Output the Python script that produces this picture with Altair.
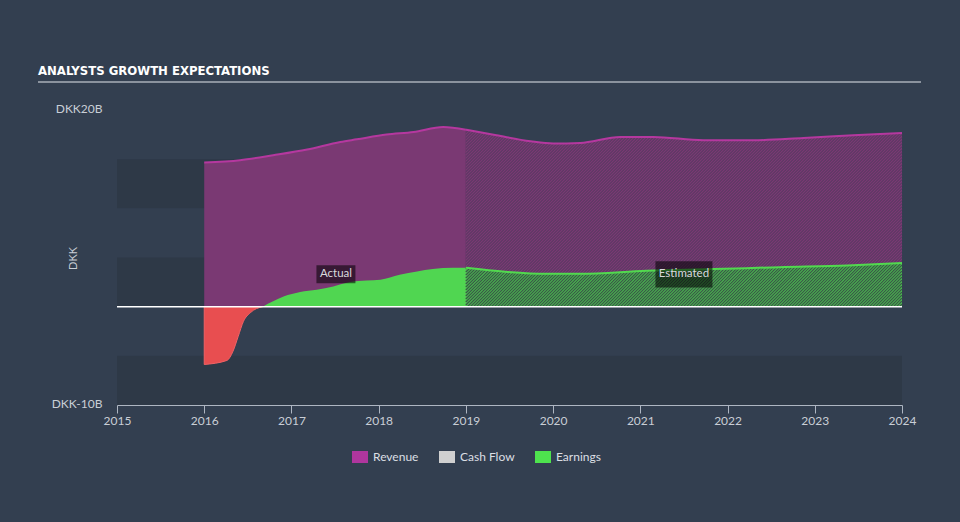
import altair as alt
import numpy as np
import pandas as pd

# ---------------- data ----------------
rev_act_years = [2016.0, 2016.41, 2016.79, 2017.18, 2017.56, 2017.75, 2018.09, 2018.4, 2018.74, 2019.0]
rev_act_vals = [14.66, 14.9, 15.4, 15.98, 16.75, 17.02, 17.5, 17.76, 18.27, 18.0]

rev_est_years = [2019.0, 2019.35, 2019.74, 2020.0, 2020.31, 2020.77, 2021.15, 2021.72, 2022.3, 2022.87, 2023.44, 2024.0]
rev_est_vals = [18.0, 17.43, 16.82, 16.59, 16.65, 17.26, 17.26, 16.92, 16.92, 17.15, 17.43, 17.66]

earn_act_years = [2016.0, 2016.26, 2016.33, 2016.39, 2016.45, 2016.53, 2016.67, 2016.91, 2017.1, 2017.29,
                  2017.48, 2017.67, 2017.86, 2018.02, 2018.24, 2018.44, 2018.62, 2018.85, 2019.0]
earn_act_vals = [-5.88, -5.47, -4.53, -3.01, -1.49, -0.61, 0.0, 1.04, 1.49, 1.72,
                 2.06, 2.5, 2.66, 2.74, 3.24, 3.58, 3.82, 3.95, 3.95]

earn_est_years = [2019.0, 2019.45, 2019.93, 2020.31, 2021.07, 2021.83, 2022.6, 2023.37, 2024.0]
earn_est_vals = [3.95, 3.55, 3.34, 3.34, 3.65, 3.82, 4.02, 4.19, 4.43]

band_tops = [15, 5, -5]
band_bottoms = [10, 0, -10]

note_texts = ["Actual", "Estimated"]
note_years = [2017.51, 2021.5]
note_vals = [3.29, 3.29]

legend_names = ["Revenue", "Cash Flow", "Earnings"]
legend_colors = ["#b0369e", "#d0d0d0", "#4ee34e"]

x_ticks = list(range(2015, 2025))
x_domain = [2015, 2024]
y_domain = [-10, 20]

# ---------------- layout / style ----------------
W, H = 785, 295
BG = "#333f50"
BAND = "#2e3947"
FONT = "Lato"

px_x = W / (x_domain[1] - x_domain[0])
px_y = H / (y_domain[1] - y_domain[0])


def hatch_segments(years, vals, spacing_px=3.0):
    """45-degree hatch lines filling the area between 0 and the series (decoration)."""
    years = np.asarray(years, float)
    vals = np.asarray(vals, float)
    k = px_x / px_y
    y0, y1 = years[0], years[-1]
    grid = np.linspace(y0, y1, 6001)
    top = np.interp(grid, years, vals)
    cs = np.arange(y0 - vals.max() / k, y1, spacing_px / px_x)
    rows = []
    for c in cs:
        if c >= y0:
            xs0, vs0 = c, 0.0
        else:
            xs0, vs0 = y0, k * (y0 - c)
        if vs0 >= np.interp(xs0, years, vals):
            continue
        diff = k * (grid - c) - top
        m = (grid >= xs0) & (diff >= 0)
        if m.any():
            xe = grid[m][0]
            ve = float(np.interp(xe, years, vals))
        else:
            xe, ve = y1, k * (y1 - c)
        rows.append({"x": xs0, "v": vs0, "x2": xe, "v2": ve})
    return pd.DataFrame(rows)


rev_act = pd.DataFrame({"year": rev_act_years, "v": rev_act_vals})
rev_est = pd.DataFrame({"year": rev_est_years, "v": rev_est_vals})
earn_act = pd.DataFrame({"year": earn_act_years, "v": earn_act_vals})
earn_neg = earn_act[earn_act["v"] <= 0]
earn_pos = earn_act[earn_act["v"] >= 0]
earn_est = pd.DataFrame({"year": earn_est_years, "v": earn_est_vals})
bands = pd.DataFrame({"top": band_tops, "bottom": band_bottoms})
notes = pd.DataFrame({"t": note_texts, "year": note_years, "v": note_vals})
leg = pd.DataFrame({"name": legend_names})
one = pd.DataFrame({"a": [0]})
rev_hatch = hatch_segments(rev_est_years, rev_est_vals)
earn_hatch = hatch_segments(earn_est_years, earn_est_vals)

xs = alt.Scale(domain=x_domain, nice=False, zero=False)
ys = alt.Scale(domain=y_domain, nice=False, zero=False)
x_axis = alt.Axis(values=x_ticks, format="d", tickSize=8, labelFontSize=12, labelColor="#c9ced6",
                  domainColor="#aeb6c2", tickColor="#aeb6c2", grid=False, title=None,
                  labelPadding=2, labelFont=FONT, labelFlush=False)
y_axis = alt.Axis(values=[-10, 20], labelExpr="'DKK' + datum.value + 'B'", ticks=False, domain=False,
                  grid=False, labelPadding=15, labelFontSize=12, labelColor="#c9ced6", labelFont=FONT,
                  labelOffset=-2, title="DKK", titleFontSize=11, titleColor="#c9ced6", titleFont=FONT,
                  titleFontWeight="normal", titleX=-44, titleY=148, titleBaseline="middle", titleAngle=-90)


def X(f="year"):
    return alt.X(f"{f}:Q", scale=xs, axis=x_axis)


def Y(f="v"):
    return alt.Y(f"{f}:Q", scale=ys, axis=y_axis, stack=None)


band_layer = alt.Chart(bands).mark_rect(color=BAND).encode(
    x=alt.value(0), x2=alt.value(W), y=Y("top"), y2="bottom:Q")

rev_act_area = alt.Chart(rev_act).mark_area(color="#7a3973", interpolate="monotone").encode(
    x=X(), y=Y(), y2=alt.datum(0))
rev_est_area = alt.Chart(rev_est).mark_area(color="#7a3973", interpolate="monotone").encode(
    x=X(), y=Y(), y2=alt.datum(0))
rev_hatch_layer = alt.Chart(rev_hatch).mark_rule(color="#4d3a5c", strokeWidth=1.0).encode(
    x=X("x"), x2="x2:Q", y=Y("v"), y2="v2:Q")

rev_lines = alt.layer(
    alt.Chart(rev_act).mark_line(color="#b5389f", strokeWidth=2, interpolate="monotone").encode(x=X(), y=Y()),
    alt.Chart(rev_est).mark_line(color="#b5389f", strokeWidth=2, interpolate="monotone").encode(x=X(), y=Y()),
)

neg_area = alt.Chart(earn_neg).mark_area(color="#e84e50", interpolate="monotone",
                                         stroke="#f06265", strokeWidth=1).encode(
    x=X(), y=Y(), y2=alt.datum(0))
pos_area = alt.Chart(earn_pos).mark_area(color="#50d651", interpolate="monotone").encode(
    x=X(), y=Y(), y2=alt.datum(0))

earn_est_area = alt.Chart(earn_est).mark_area(color="#4fd651", interpolate="monotone").encode(
    x=X(), y=Y(), y2=alt.datum(0))
earn_hatch_layer = alt.Chart(earn_hatch).mark_rule(color="#3a5a48", strokeWidth=1.4).encode(
    x=X("x"), x2="x2:Q", y=Y("v"), y2="v2:Q")
earn_est_line = alt.Chart(earn_est).mark_line(color="#52d94f", strokeWidth=2, interpolate="monotone").encode(
    x=X(), y=Y())

zero_rule = alt.Chart(one).mark_rule(color="#ffffff", strokeWidth=1.5).encode(
    x=alt.value(0), x2=alt.value(W), y=alt.datum(0, scale=ys))

note_boxes = alt.Chart(notes).mark_point(filled=True, color="#000000", opacity=0.55, strokeWidth=0).encode(
    x=X(), y=Y(),
    shape=alt.value("M-1,-0.46H1V0.46H-1Z"),
    size=alt.condition("datum.t === 'Actual'", alt.value(1521), alt.value(3249)),
)
note_text = alt.Chart(notes).mark_text(color="#d9d9de", fontSize=11.5, font=FONT).encode(
    x=X(), y=Y(), text="t:N")

legend_layer = alt.Chart(leg).mark_point(filled=True, clip=True).encode(
    x=alt.datum(2010, scale=xs),
    y=alt.datum(0, scale=ys),
    color=alt.Color("name:N", scale=alt.Scale(domain=legend_names, range=legend_colors),
                    legend=alt.Legend(title=None, orient="none", legendX=235, legendY=339,
                                      direction="horizontal", symbolType="M-1,-0.75H1V0.75H-1Z",
                                      symbolSize=256, symbolStrokeWidth=0, symbolOpacity=1,
                                      labelFontSize=12, labelColor="#dcdfe4", labelFont=FONT,
                                      labelOffset=5, columnPadding=20, padding=0)),
)

title_text = alt.Chart(one).mark_text(
    text="ANALYSTS GROWTH EXPECTATIONS", align="left", baseline="alphabetic",
    font="DejaVu Sans Condensed, Liberation Sans Narrow, Roboto Condensed, DejaVu Sans",
    fontWeight="bold", fontSize=13, color="#ffffff").encode(x=alt.value(-79), y=alt.value(-35))
title_rule = alt.Chart(one).mark_rule(color="#aab0b8", strokeWidth=1.5).encode(
    x=alt.value(-79), x2=alt.value(804), y=alt.value(-28))

chart = alt.layer(
    band_layer, rev_act_area, rev_est_area, rev_hatch_layer, rev_lines, neg_area, pos_area,
    earn_est_area, earn_hatch_layer, earn_est_line, zero_rule, note_boxes, note_text,
    legend_layer, title_text, title_rule,
).properties(
    width=W, height=H, background=BG,
    autosize=alt.AutoSizeParams(type="none"),
    padding={"left": 117, "top": 110, "right": 58, "bottom": 117},
).configure_view(stroke=None)

chart.save("out.html", embed_options={"renderer": "svg", "actions": False})
